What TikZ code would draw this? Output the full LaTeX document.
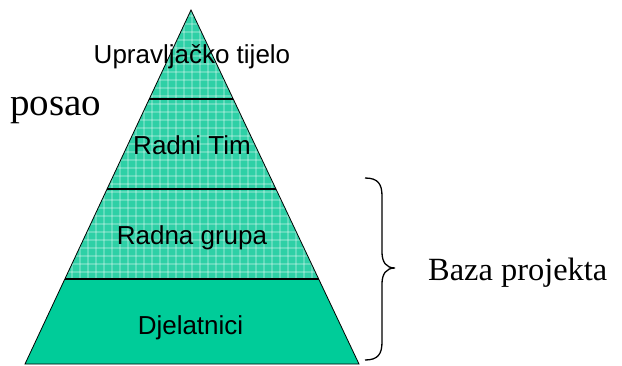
\documentclass[tikz,border=0pt]{standalone}
\usepackage{fontspec}
\setmainfont{Liberation Serif}
\setsansfont{Liberation Sans}
\usetikzlibrary{calc}
\definecolor{pyrgreen}{HTML}{00CC99}
\definecolor{pyrlight}{HTML}{2ED0A6}

\begin{document}
\begin{tikzpicture}[x=1pt,y=-1pt,
    level/.style={font=\sffamily\fontsize{26}{30}\selectfont,inner sep=0pt,anchor=base},
    side/.style={font=\rmfamily\fontsize{#1}{#1}\selectfont,inner sep=0pt,anchor=base west},
    gridline/.style={white,opacity=0.25,line width=1.3pt},
    band/.style={line width=1.8pt}]

          \useasboundingbox (0,0) rectangle (622,365);

          \coordinate (apex) at (191,10);
          \coordinate (bl) at (25,364);
          \coordinate (br) at (359,364);
          \coordinate (l1) at ($(apex)!0.2514!(bl)$);
          \coordinate (r1) at ($(apex)!0.2514!(br)$);
          \coordinate (l2) at ($(apex)!0.5056!(bl)$);
          \coordinate (r2) at ($(apex)!0.5056!(br)$);
          \coordinate (l3) at ($(apex)!0.7599!(bl)$);
          \coordinate (r3) at ($(apex)!0.7599!(br)$);

          % bands
          \fill[pyrgreen] (l3) -- (r3) -- (br) -- (bl) -- cycle;
          \fill[pyrlight] (apex) -- (r3) -- (l3) -- cycle;
          \begin{scope}
            \clip (apex) -- (r3) -- (l3) -- cycle;
            \foreach \k in {0,8,...,400} {
              \draw[gridline] (\k,0) -- (\k,365);
              \draw[gridline] (0,\k) -- (622,\k);
            }
          \end{scope}
          \draw[line width=0.8pt] (apex) -- (br) -- (bl) -- cycle;
          \draw[band] (l1) -- (r1);
          \draw[band] (l2) -- (r2);
          \draw[band] (l3) -- (r3);

          \node[level] (top) at (192,63) {Upravljačko tijelo};
          \node[level] (team) at (192,154) {Radni Tim};
          \node[level] (group) at (192,244) {Radna grupa};
          \node[level] (staff) at (190.5,334) {Djelatnici};

          \node[side=39] (job) at (10,115) {posao};
          \node[side=32.4] (base) at (428,280) {Baza projekta};

          % brace
          \draw[line width=1.3pt] (365,178) .. controls (378,178) and (382,184) .. (382,196)
            -- (382,252) .. controls (382,262) and (386,268) .. (395,268)
            .. controls (386,268) and (382,274) .. (382,284)
            -- (382,342) .. controls (382,354) and (378,360) .. (365,360);
        \end{tikzpicture}
\end{document}
